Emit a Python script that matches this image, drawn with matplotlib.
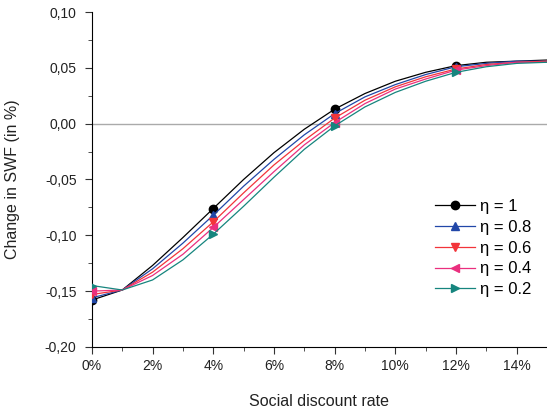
import matplotlib
matplotlib.use("Agg")
import matplotlib.pyplot as plt
from matplotlib.ticker import MultipleLocator, FuncFormatter

plt.rcParams['font.family'] = ['Liberation Sans', 'DejaVu Sans']

rate = [0, 1, 2, 3, 4, 5, 6, 7, 8, 9, 10, 11, 12, 13, 14, 15]

eta_1 = [-0.158, -0.149, -0.127, -0.102, -0.076, -0.050, -0.026, -0.005, 0.013, 0.027, 0.038, 0.046, 0.052, 0.055, 0.056, 0.057]
eta_08 = [-0.156, -0.149, -0.130, -0.107, -0.082, -0.056, -0.032, -0.010, 0.009, 0.024, 0.035, 0.044, 0.051, 0.054, 0.056, 0.056]
eta_06 = [-0.153, -0.149, -0.133, -0.112, -0.088, -0.062, -0.037, -0.015, 0.005, 0.021, 0.033, 0.042, 0.049, 0.053, 0.055, 0.056]
eta_04 = [-0.150, -0.149, -0.136, -0.117, -0.093, -0.068, -0.043, -0.019, 0.001, 0.018, 0.031, 0.040, 0.048, 0.052, 0.055, 0.055]
eta_02 = [-0.145, -0.149, -0.140, -0.122, -0.099, -0.074, -0.048, -0.023, -0.002, 0.015, 0.028, 0.038, 0.046, 0.051, 0.054, 0.055]

series = [
    ("\u03b7 = 1", eta_1, "black", "o"),
    ("\u03b7 = 0.8", eta_08, "#2147a8", "^"),
    ("\u03b7 = 0.6", eta_06, "#f2343a", "v"),
    ("\u03b7 = 0.4", eta_04, "#ea2f7e", "<"),
    ("\u03b7 = 0.2", eta_02, "#16857e", ">"),
]

fig = plt.figure(figsize=(5.47, 4.15), dpi=100)
ax = fig.add_axes([0.168, 0.164, 0.832, 0.807])

ax.axhline(0, color="#aaaaaa", linewidth=1.0, zorder=1)

for label, vals, color, marker in series:
    ax.plot(rate, vals, color=color, linewidth=0.9, marker=marker,
            markersize=6, markevery=4, label=label, zorder=3)

ax.set_xlim(0, 15)
ax.set_ylim(-0.20, 0.10)
ax.xaxis.set_major_locator(MultipleLocator(2))
ax.xaxis.set_minor_locator(MultipleLocator(1))
ax.yaxis.set_major_locator(MultipleLocator(0.05))
ax.yaxis.set_minor_locator(MultipleLocator(0.025))
ax.xaxis.set_major_formatter(FuncFormatter(lambda v, p: f"{v:.0f}%"))
ax.yaxis.set_major_formatter(FuncFormatter(lambda v, p: f"{v:.2f}".replace(".", ",").replace("-0,00", "0,00")))

ax.spines['top'].set_visible(False)
ax.spines['right'].set_visible(False)
ax.tick_params(which='major', direction='out', length=5, labelsize=10, colors='#333333', labelcolor='#222222')
ax.tick_params(axis='y', which='major', pad=6)
ax.tick_params(which='minor', direction='out', length=3, colors='#333333')

ax.set_xlabel("Social discount rate", fontsize=11.5, color='#222222', labelpad=15)
ax.set_ylabel("Change in SWF (in %)", fontsize=11.5, color='#222222', labelpad=18)

ax.legend(loc='center left', bbox_to_anchor=(0.755, 0.295), frameon=False,
          fontsize=12, handlelength=2.4, labelspacing=0.35, handletextpad=0.3,
          borderaxespad=0, borderpad=0)

fig.savefig("out.png", dpi=100)
